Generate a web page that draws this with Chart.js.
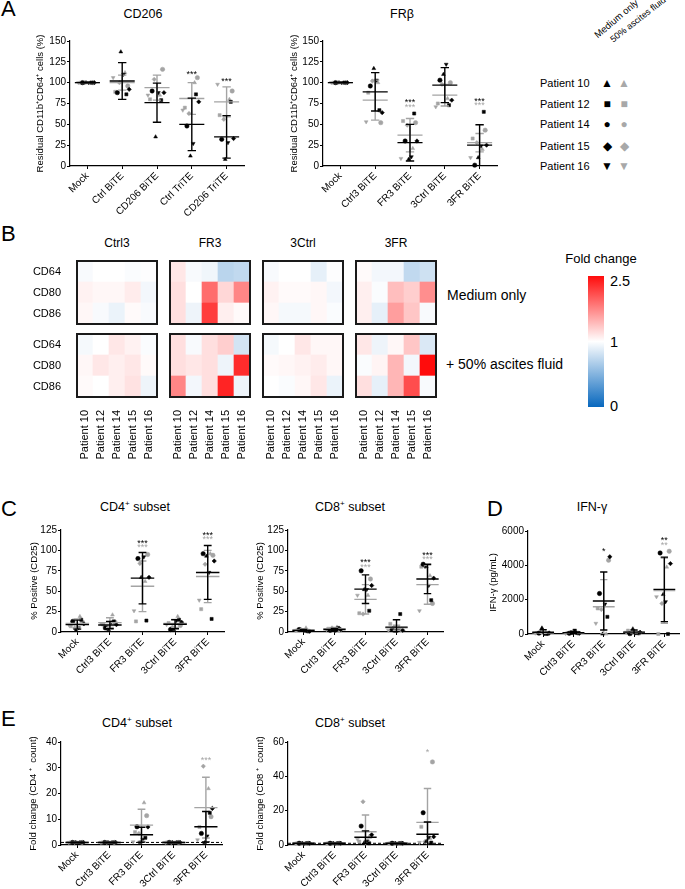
<!DOCTYPE html>
<html>
<head>
<meta charset="utf-8">
<script src="https://cdn.jsdelivr.net/npm/chart.js"></script>
<style>
  body { margin: 0; background: #fff; }
  #fig { position: relative; width: 685px; height: 889px; overflow: hidden; font-family: "Liberation Sans", Arial, sans-serif; }
  canvas { position: absolute; }
  .t { position: absolute; white-space: nowrap; color: #000; line-height: 1; }
</style>
</head>
<body>
<div id="fig"></div>
<script>
// ---- categories ----
const catsA1 = ['Mock', 'Ctrl BiTE', 'CD206 BiTE', 'Ctrl TriTE', 'CD206 TriTE'];
const catsB = ['Mock', 'Ctrl3 BiTE', 'FR3 BiTE', '3Ctrl BiTE', '3FR BiTE'];
const patients = ['Patient 10', 'Patient 12', 'Patient 14', 'Patient 15', 'Patient 16'];
const markers = ['CD64', 'CD80', 'CD86'];

// ---- A: CD206 (rows = groups, cols = patients 10,12,14,15,16) ----
const cd206Med = [[100,100,100,100,100],[137,86,88,92,110],[35,79,90,88,88],[12,86,48,77,27],[8,77,32,33,28]];
const cd206Asc = [[100,100,100,100,100],[112,89,96,100,106],[85,80,116,104,85],[100,70,106,63,67],[80,61,90,56,98]];
const cd206MedMean = [100,102,76,50,35];
const cd206MedSd = [0,22,23.5,31.5,25.5];
const cd206AscMean = [100,100,94,81,77];
const cd206AscSd = [0,9,15,19,18];
const cd206Stars = [{i:3, v:112, t:'***', c:'k'}, {i:4, v:104, t:'***', c:'k'}];

// ---- A: FRβ ----
const frbMed = [[100,100,100,100,100],[117,67,96,64,103],[8,63,30,30,11],[110,73,103,79,122],[10,65,1,25,24]];
const frbAsc = [[100,100,100,100,100],[100,88,52,102,53],[21,54,52,49,9],[81,75,100,98,71],[20,33,43,28,10]];
const frbMedMean = [100,89,28,97,25];
const frbMedSd = [0,23,22,21,24.5];
const frbAscMean = [100,79,37,85,28];
const frbAscSd = [0,24,20,13,11];
const frbStars = [{i:2, v:78, t:'***', c:'k'}, {i:2, v:73, t:'***', c:'g'}, {i:4, v:80, t:'***', c:'k'}, {i:4, v:75, t:'***', c:'g'}];

// ---- B: heatmaps (rows CD64, CD80, CD86; cols patients) ----
const hmCtrl3Med = [[0.97,1.0,1.0,0.98,0.99],[1.08,1.05,1.05,1.12,0.95],[1.05,0.97,0.92,1.03,0.97]];
const hmCtrl3Asc = [[0.96,1.0,1.15,1.08,0.98],[1.05,1.15,1.1,1.15,1.03],[1.03,1.0,1.1,1.18,0.93]];
const hmFR3Med = [[1.15,0.97,0.94,0.72,0.75],[1.2,1.0,1.9,1.25,1.75],[1.2,0.93,2.2,1.1,1.03]];
const hmFR3Asc = [[1.2,0.97,1.2,1.3,0.82],[1.2,1.15,1.2,0.93,2.3],[1.75,0.95,1.2,2.35,0.93]];
const hm3CtrlMed = [[0.97,1.0,1.0,0.9,0.99],[1.08,1.03,1.03,1.05,0.95],[1.05,0.96,0.96,1.05,0.98]];
const hm3CtrlAsc = [[0.96,1.0,1.15,1.05,1.05],[1.03,1.05,1.08,1.12,1.05],[1.0,0.98,1.05,1.15,0.92]];
const hm3FRMed = [[1.03,0.95,0.95,0.75,0.8],[1.1,0.98,1.4,1.3,1.7],[1.1,0.9,1.6,1.35,0.97]];
const hm3FRAsc = [[1.15,0.93,1.05,1.35,0.85],[0.98,1.07,1.45,0.95,2.5],[1.2,0.9,1.45,2.1,0.97]];

// ---- C: CD25 ----
const cd4Med = [[2,15,13,10,5],[3,13,5,9,12],[67,14,90,67,92],[3,15,3,12,14],[93,16,96,87,73]];
const cd4Asc = [[19,7,12,5,9],[21,9,12,6,10],[62,13,95,84,26],[19,11,8,6,9],[96,28,94,83,39]];
const cd4MedMean = [9,8.5,66,9.5,73];
const cd4MedSd = [5.5,4.5,31.5,5.5,33];
const cd4AscMean = [10.5,11.5,56,10.5,68];
const cd4AscSd = [5.5,6,31,5,32];
const cd4Stars = [{i:2, v:111.5, t:'***', c:'k'}, {i:2, v:106, t:'***', c:'g'}, {i:4, v:121, t:'***', c:'k'}, {i:4, v:116, t:'***', c:'g'}];

const cd8Med = [[2,1,3,1,2],[3,5,2,3,2],[52,26,75,57,52],[1,22,3,2,2],[80,39,83,66,57]];
const cd8Asc = [[5,2,1,3,2],[6,4,2,5,3],[45,23,65,22,45],[5,10,3,6,2],[69,80,35,80,26]];
const cd8MedMean = [2,3,52.5,6,65];
const cd8MedSd = [1,1.5,17.5,9,18];
const cd8AscMean = [2.6,4,40,5.2,58];
const cd8AscSd = [1.5,1.5,18,3,24];
const cd8Stars = [{i:2, v:87.5, t:'***', c:'k'}, {i:2, v:82, t:'***', c:'g'}, {i:4, v:96.5, t:'***', c:'k'}, {i:4, v:91.6, t:'***', c:'g'}];

// ---- D: IFN-γ ----
const ifnMed = [[350,0,50,60,20],[30,60,40,50,220],[0,1000,2360,4500,1740],[300,50,20,100,60],[2300,0,4720,4100,1880]];
const ifnAsc = [[80,60,40,100,50],[150,60,40,80,30],[0,1490,4300,1430,620],[80,200,50,40,100],[3900,0,4820,1780,2170]];
const ifnMedMean = [100,80,1920,110,2600];
const ifnMedSd = [150,80,1690,120,1880];
const ifnAscMean = [70,70,1590,95,2530];
const ifnAscSd = [25,50,1580,60,1900];
const ifnStars = [{i:2, v:4950, t:'*', c:'k'}, {i:4, v:5550, t:'**', c:'k'}, {i:4, v:5280, t:'**', c:'g'}];

// ---- E: fold change counts ----
const ecd4Med = [[1,1,1,1,1],[1,1,1,1,1],[1,2.8,7.1,7,2.2],[1,1,1,1,1],[0.9,12.5,4.5,14.2,3.5]];
const ecd4Asc = [[1,1,1,1,1],[1,1,1,1,1],[16.4,5,11.4,4.5,1.2],[1,1,1,1,1],[21.9,7,11,30.6,2]];
const ecd4MedMean = [1,1,4,1,7.1];
const ecd4MedSd = [0.1,0.1,2.9,0.1,5.9];
const ecd4AscMean = [1,1,7.7,1,14.5];
const ecd4AscSd = [0.1,0.1,6.2,0.1,11.8];
const ecd4Stars = [{i:4, v:33.5, t:'***', c:'g'}];

const ecd8Med = [[1,1,1,1,1],[1,1,1,1,1],[1.4,1,11,6,2.1],[1,1,1,1,1],[2.1,1.4,18.8,4.8,4.5]];
const ecd8Asc = [[1,1,1,1,1],[1,1,1,1,1],[3,2,5,25.2,3.3],[1,1,1,1,1],[3.9,10.6,48.4,2,1.5]];
const ecd8MedMean = [1,1,4.5,1,6.3];
const ecd8MedSd = [0.1,0.1,3.7,0.1,7.1];
const ecd8AscMean = [1,1,7.7,1,13.2];
const ecd8AscSd = [0.1,0.1,9.8,0.1,19.7];
const ecd8Stars = [{i:4, v:55, t:'*', c:'g'}];

// ---- styling ----
const GRAY = '#a4a4a4';
const shapes = ['triangle', 'rect', 'circle', 'rectRot', 'triangle'];
const rots = [0, 0, 0, 0, 180];
const offMed = [-0.04, 0.12, -0.14, 0.2, 0.04];
const offAsc = [0.08, -0.2, 0.16, -0.08, -0.26];
const FONT = '"Liberation Sans", Arial, sans-serif';

Chart.defaults.font.family = FONT;
Chart.defaults.color = '#000';
Chart.defaults.animation = false;

const fig = document.getElementById('fig');

function addCanvas(left, top, w, h) {
  const c = document.createElement('canvas');
  c.width = w; c.height = h;
  c.style.left = left + 'px'; c.style.top = top + 'px';
  c.style.width = w + 'px'; c.style.height = h + 'px';
  fig.appendChild(c);
  return c;
}

function txt(html, x, y, size, extra) {
  const d = document.createElement('div');
  d.className = 't';
  d.innerHTML = html;
  d.style.left = x + 'px';
  d.style.top = y + 'px';
  d.style.fontSize = size + 'px';
  d.style.transform = 'translate(-50%,-50%)';
  if (extra) Object.assign(d.style, extra);
  fig.appendChild(d);
  return d;
}

const starPlugin = {
  id: 'stars',
  afterDatasetsDraw(chart, args, opts) {
    const list = opts.list || [];
    const { ctx, scales: { x, y } } = chart;
    ctx.save();
    ctx.font = '9px ' + FONT;
    ctx.textAlign = 'center';
    ctx.textBaseline = 'middle';
    list.forEach(s => {
      ctx.fillStyle = s.c === 'g' ? GRAY : '#000';
      ctx.fillText(s.t, x.getPixelForValue(s.i), y.getPixelForValue(s.v) + 2);
    });
    ctx.restore();
  }
};

function errData(means, sds) {
  const d = [];
  means.forEach((m, i) => {
    const s = sds[i];
    d.push({x: i - 0.36, y: m}, {x: i + 0.36, y: m}, {x: i, y: null});
    if (s > 0.5 || s > 0 && m < 50) {
      d.push({x: i, y: m - s}, {x: i, y: m + s}, {x: i, y: null});
      d.push({x: i - 0.12, y: m + s}, {x: i + 0.12, y: m + s}, {x: i, y: null});
      d.push({x: i - 0.12, y: m - s}, {x: i + 0.12, y: m - s}, {x: i, y: null});
    }
  });
  return d;
}

function scatterPanel(p) {
  const cv = addCanvas(p.left, p.top, p.w, p.h);
  const pts = (vals, off) => vals.flatMap((g, i) => g.map((v, k) => ({x: i + off[k], y: v})));
  const ptSet = (data, col) => ({
    data, showLine: false, clip: false,
    pointStyle: c => shapes[c.dataIndex % 5],
    rotation: c => rots[c.dataIndex % 5],
    pointRadius: 2.2, pointBackgroundColor: col, pointBorderColor: col, pointBorderWidth: 0.5
  });
  const lineSet = (means, sds, col) => ({
    data: errData(means, sds), showLine: true, spanGaps: false,
    borderColor: col, borderWidth: 1.4, pointRadius: 0
  });
  const ds = [
    lineSet(p.medMean, p.medSd, '#000'),
    lineSet(p.ascMean, p.ascSd, GRAY),
    ptSet(pts(p.med, offMed), '#000'),
    ptSet(pts(p.asc, offAsc), GRAY)
  ];
  if (p.dashed) {
    ds.push({data: [{x: -0.5, y: 1}, {x: 4.5, y: 1}], showLine: true, borderDash: [3, 2],
      borderColor: '#000', borderWidth: 1, pointRadius: 0});
  }
  const axisGrid = {drawOnChartArea: false, drawTicks: true, tickLength: 3, color: '#000', lineWidth: 1};
  new Chart(cv, {
    type: 'scatter',
    data: {datasets: ds},
    options: {
      responsive: false, events: [],
      layout: {padding: {top: p.padTop, right: p.padRight, left: 0, bottom: 0}},
      plugins: {legend: {display: false}, tooltip: {enabled: false}, stars: {list: p.stars}},
      scales: {
        x: {
          type: 'linear', min: -0.5, max: 4.5,
          afterBuildTicks: s => { s.ticks = p.cats.map((c, i) => ({value: i})); },
          afterFit: s => { s.height = p.xh; s.paddingLeft = 0; s.paddingRight = 0; },
          ticks: {callback: v => p.cats[v], autoSkip: false, minRotation: 45, maxRotation: 45,
                  padding: 1, font: {size: p.fs}},
          grid: axisGrid,
          border: {color: '#000', width: 1.2}
        },
        y: {
          min: p.ymin, max: p.ymax,
          afterBuildTicks: s => { s.ticks = p.yticks.map(v => ({value: v})); },
          afterFit: s => { s.width = p.yw; s.paddingTop = 0; s.paddingBottom = 0; },
          ticks: {callback: v => String(v), padding: 1, font: {size: p.fs}},
          grid: axisGrid,
          border: {color: '#000', width: 1.2},
          title: {display: true, text: p.ytitle, font: {size: 9.5}, padding: 0}
        }
      }
    },
    plugins: [starPlugin]
  });
}

// colour scale for fold change: 0 blue, 1 white, 2.5 red
function foldColor(v) {
  const lo = [8, 104, 190], hi = [255, 12, 12];
  let t, c;
  if (v >= 1) { t = Math.min((v - 1) / 1.5, 1); c = hi; }
  else { t = Math.min(1 - v, 1); c = lo; }
  const m = c.map(ch => Math.round(255 + (ch - 255) * t));
  return `rgb(${m[0]},${m[1]},${m[2]})`;
}

const boxPlugin = {
  id: 'box',
  afterDatasetsDraw(chart) {
    const {ctx, chartArea: a} = chart;
    ctx.save();
    ctx.strokeStyle = '#1a1a1a';
    ctx.lineWidth = 2;
    ctx.strokeRect(a.left, a.top, a.right - a.left, a.bottom - a.top);
    ctx.restore();
  }
};

const HM_W = 80, HM_H = 63;
function heatPanel(boxLeft, boxTop, vals, withX, withY) {
  const left = withY ? 10 : boxLeft - 2;
  const top = boxTop - 2;
  const w = boxLeft + HM_W + 2 - left;
  const h = withX ? 2 + HM_H + 62 : HM_H + 4;
  const cv = addCanvas(left, top, w, h);
  const rows = [vals[2], vals[1], vals[0]];   // CD86 bottom, CD64 top
  new Chart(cv, {
    type: 'bar',
    data: {
      labels: patients,
      datasets: rows.map(r => ({
        data: r.map(() => 1),
        backgroundColor: r.map(foldColor),
        borderWidth: 0, barPercentage: 1, categoryPercentage: 1
      }))
    },
    options: {
      responsive: false, events: [],
      layout: {padding: {top: 2, right: 2, left: withY ? 0 : 2, bottom: withX ? 0 : 2}},
      plugins: {legend: {display: false}, tooltip: {enabled: false}},
      scales: {
        x: {
          stacked: true, display: withX,
          afterFit: s => { if (withX) { s.height = 62; s.paddingLeft = 0; s.paddingRight = 0; } },
          ticks: {minRotation: 90, maxRotation: 90, autoSkip: false, padding: 5, font: {size: 11}},
          grid: {display: false}, border: {display: false}
        },
        y: {
          stacked: true, display: withY, min: 0, max: 3,
          afterBuildTicks: s => { s.ticks = [0.5, 1.5, 2.5].map(v => ({value: v})); },
          afterFit: s => { if (withY) { s.width = boxLeft - left; s.paddingTop = 0; s.paddingBottom = 0; } },
          ticks: {callback: v => ['CD86', 'CD80', 'CD64'][Math.floor(v)], padding: 8, font: {size: 11}},
          grid: {display: false}, border: {display: false}
        }
      }
    },
    plugins: [boxPlugin]
  });
}

// ---------- Panel letters ----------
const letterStyle = {transform: 'none', fontSize: '22px', lineHeight: '22px'};
txt('A', 1, -2, 22, letterStyle);
txt('B', 1, 223, 22, letterStyle);
txt('C', 1, 498, 22, letterStyle);
txt('D', 487, 498, 22, letterStyle);
txt('E', 1, 708, 22, letterStyle);

const sup = s => `<span style="font-size:8px;position:relative;top:-5px">${s}</span>`;

// ---------- A ----------
txt('CD206', 143, 14, 12.5);
txt('FRβ', 402, 14, 12.5);
scatterPanel({left: 35, top: 30, w: 215, h: 190, padTop: 11, padRight: 6, yw: 35, xh: 54, fs: 10,
  cats: catsA1, ymin: 0, ymax: 150, yticks: [0,25,50,75,100,125,150],
  ytitle: 'Residual CD11b⁺CD64⁺ cells (%)',
  med: cd206Med, asc: cd206Asc, medMean: cd206MedMean, medSd: cd206MedSd,
  ascMean: cd206AscMean, ascSd: cd206AscSd, stars: cd206Stars});
scatterPanel({left: 289, top: 30, w: 214, h: 190, padTop: 11, padRight: 6, yw: 34, xh: 54, fs: 10,
  cats: catsB, ymin: 0, ymax: 150, yticks: [0,25,50,75,100,125,150],
  ytitle: 'Residual CD11b⁺CD64⁺ cells (%)',
  med: frbMed, asc: frbAsc, medMean: frbMedMean, medSd: frbMedSd,
  ascMean: frbAscMean, ascSd: frbAscSd, stars: frbStars});

// legend
const legY = [83, 104, 124, 146, 166];
const legSym = ['▲', '■', '●', '◆', '▼'];
patients.forEach((pt, i) => {
  txt(pt, 540, legY[i], 11, {transform: 'translate(0,-50%)'});
  txt(legSym[i], 607, legY[i], 12);
  txt(legSym[i], 624, legY[i], 12, {color: '#a8a8a8'});
});
const headStyle = {transformOrigin: '0 100%', lineHeight: '11px', height: '11px'};
txt('Medium only', 599, 29, 9.5, Object.assign({transform: 'rotate(-40deg)'}, headStyle));
txt('50% ascites fluid', 615, 34, 9, Object.assign({transform: 'rotate(-38deg)'}, headStyle));

// ---------- B ----------
const hmLeft = [77, 170, 263, 356];
const hmTitles = ['Ctrl3', 'FR3', '3Ctrl', '3FR'];
hmTitles.forEach((t, i) => txt(t, hmLeft[i] + HM_W / 2, 243, 12));
heatPanel(hmLeft[0], 261, hmCtrl3Med, false, true);
heatPanel(hmLeft[1], 261, hmFR3Med, false, false);
heatPanel(hmLeft[2], 261, hm3CtrlMed, false, false);
heatPanel(hmLeft[3], 261, hm3FRMed, false, false);
heatPanel(hmLeft[0], 334, hmCtrl3Asc, true, true);
heatPanel(hmLeft[1], 334, hmFR3Asc, true, false);
heatPanel(hmLeft[2], 334, hm3CtrlAsc, true, false);
heatPanel(hmLeft[3], 334, hm3FRAsc, true, false);
txt('Medium only', 447, 295, 14, {transform: 'translate(0,-50%)'});
txt('+ 50% ascites fluid', 446, 364, 14, {transform: 'translate(0,-50%)'});

// colour bar
txt('Fold change', 601, 258, 13);
const bar = document.createElement('div');
Object.assign(bar.style, {position: 'absolute', left: '588px', top: '276px', width: '16px', height: '131px',
  background: `linear-gradient(to top, ${foldColor(0)} 0%, ${foldColor(1)} 50%, ${foldColor(2.5)} 100%)`});
fig.appendChild(bar);
txt('2.5', 610, 281, 14.5, {transform: 'translate(0,-50%)'});
txt('1', 610, 342, 14.5, {transform: 'translate(0,-50%)'});
txt('0', 610, 406, 14.5, {transform: 'translate(0,-50%)'});

// ---------- C ----------
txt('CD4' + sup('+') + ' subset', 135, 507, 12.5);
txt('CD8' + sup('+') + ' subset', 350, 507, 12.5);
scatterPanel({left: 29, top: 515, w: 201, h: 161, padTop: 15, padRight: 6, yw: 32, xh: 44, fs: 10,
  cats: catsB, ymin: 0, ymax: 125, yticks: [0,25,50,75,100,125],
  ytitle: '% Positive (CD25)',
  med: cd4Med, asc: cd4Asc, medMean: cd4MedMean, medSd: cd4MedSd,
  ascMean: cd4AscMean, ascSd: cd4AscSd, stars: cd4Stars});
scatterPanel({left: 255, top: 515, w: 194, h: 161, padTop: 15, padRight: 6, yw: 33, xh: 44, fs: 10,
  cats: catsB, ymin: 0, ymax: 125, yticks: [0,25,50,75,100,125],
  ytitle: '% Positive (CD25)',
  med: cd8Med, asc: cd8Asc, medMean: cd8MedMean, medSd: cd8MedSd,
  ascMean: cd8AscMean, ascSd: cd8AscSd, stars: cd8Stars});

// ---------- D ----------
txt('IFN-γ', 592, 507, 12.5);
scatterPanel({left: 488, top: 515, w: 196, h: 163, padTop: 16, padRight: 2, yw: 40, xh: 44, fs: 10,
  cats: catsB, ymin: 0, ymax: 6000, yticks: [0,2000,4000,6000],
  ytitle: 'IFN-γ (pg/mL)',
  med: ifnMed, asc: ifnAsc, medMean: ifnMedMean, medSd: ifnMedSd,
  ascMean: ifnAscMean, ascSd: ifnAscSd, stars: ifnStars});

// ---------- E ----------
txt('CD4' + sup('+') + ' subset', 137, 723, 12.5);
txt('CD8' + sup('+') + ' subset', 350, 723, 12.5);
scatterPanel({left: 28, top: 730, w: 200, h: 159, padTop: 12, padRight: 6, yw: 33, xh: 44, fs: 10,
  cats: catsB, ymin: 0, ymax: 40, yticks: [0,10,20,30,40],
  ytitle: 'Fold change (CD4 ⁺  count)', dashed: true,
  med: ecd4Med, asc: ecd4Asc, medMean: ecd4MedMean, medSd: ecd4MedSd,
  ascMean: ecd4AscMean, ascSd: ecd4AscSd, stars: ecd4Stars});
scatterPanel({left: 255, top: 730, w: 194, h: 159, padTop: 12, padRight: 6, yw: 33, xh: 44, fs: 10,
  cats: catsB, ymin: 0, ymax: 60, yticks: [0,20,40,60],
  ytitle: 'Fold change (CD8 ⁺  count)', dashed: true,
  med: ecd8Med, asc: ecd8Asc, medMean: ecd8MedMean, medSd: ecd8MedSd,
  ascMean: ecd8AscMean, ascSd: ecd8AscSd, stars: ecd8Stars});
</script>
</body>
</html>
